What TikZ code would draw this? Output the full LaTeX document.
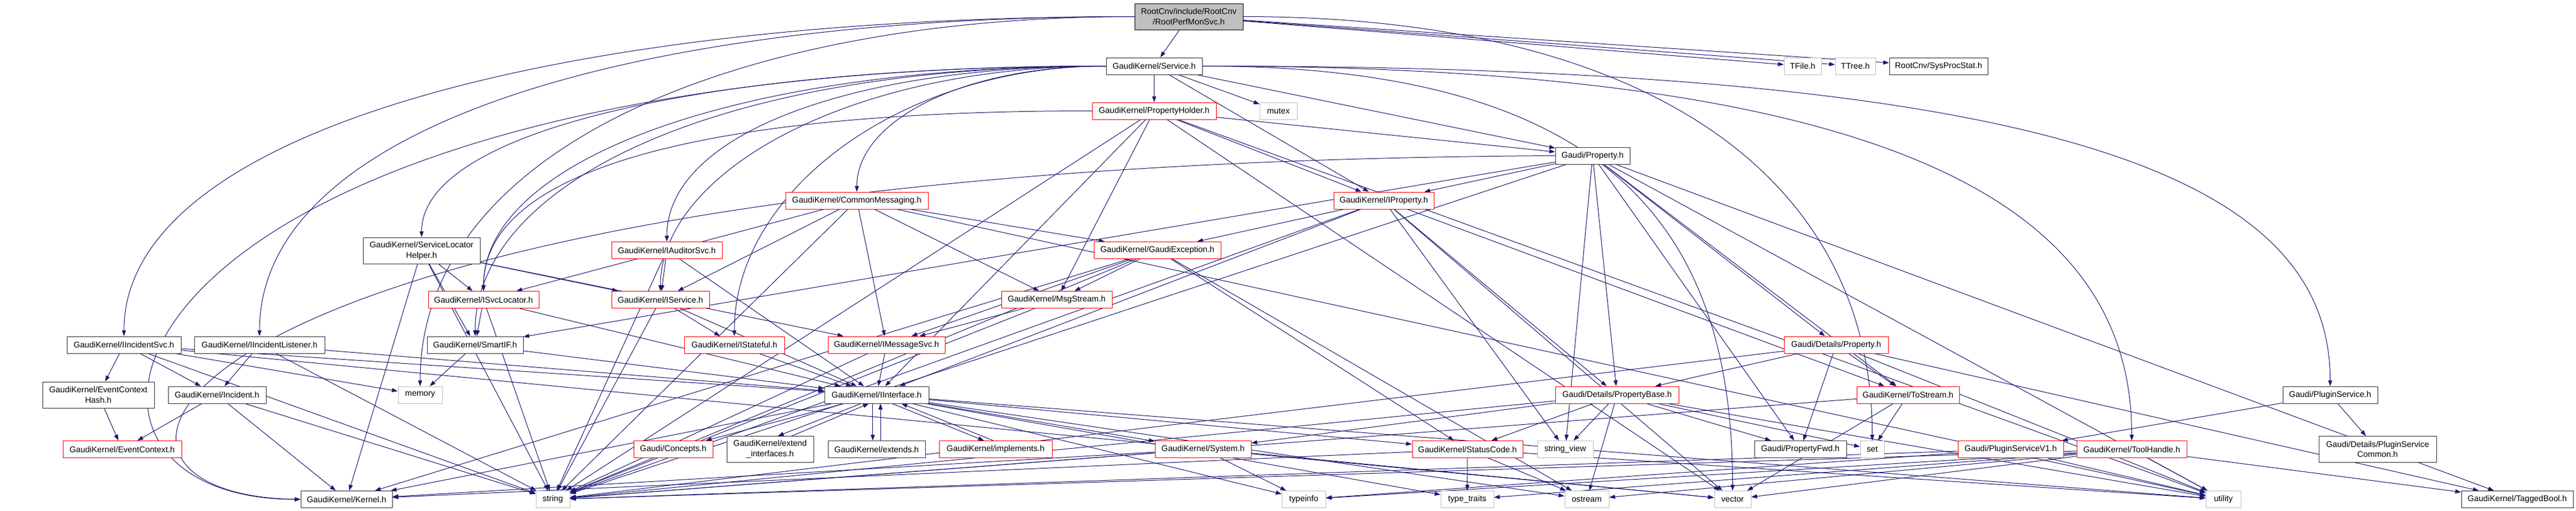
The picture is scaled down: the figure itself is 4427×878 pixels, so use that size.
\documentclass[tikz,border=0pt]{standalone}
\usepackage{fontspec}
\setmainfont{Liberation Sans}
\usetikzlibrary{arrows.meta}
\usetikzlibrary{backgrounds}
\definecolor{edgeblue}{HTML}{191970}
\definecolor{boxgrey}{HTML}{BFBFBF}
\tikzset{x=0.75pt, y=0.75pt,
every node/.style={ % Sets the properties for each file box
font=\fontsize{10.7}{13.3}\selectfont,
inner sep=0pt,
minimum height=21.75pt,
align=center,
fill=white,
line width=0.75pt},
hdr/.style={draw=black!80},
hdrred/.style={draw=red},
syshdr/.style={draw=boxgrey},
rootfile/.style={draw=black, fill=boxgrey},
bw/.style={minimum width=#1*0.75pt},
twoline/.style={minimum height=33.75pt},
incl/.style={ % Sets the properties for each include
draw,
edgeblue,
line width=0.75pt,
-{Triangle[length=7.5pt,width=5.25pt]}},
every edge/.style={incl}}

\begin{document}
\begin{tikzpicture}
\useasboundingbox (0,0) rectangle (4427,-878);
% row 0 and 1
\node[rootfile, bw=186, twoline] (rpm) at (2043,-28.5) {RootCnv/include/RootCnv\\/RootPerfMonSvc.h};
\node[hdr, bw=165] (svc) at (1983.5,-113.5) {GaudiKernel/Service.h};
\node[syshdr, bw=64] (tfile) at (3098,-113.5) {TFile.h};
\node[syshdr, bw=69] (ttree) at (3188.5,-113.5) {TTree.h};
\node[hdr, bw=169] (sysproc) at (3331.5,-113.5) {RootCnv/SysProcStat.h};
% rows 2 to 4
\node[hdrred, bw=213] (propholder) at (1983.5,-190.5) {GaudiKernel/PropertyHolder.h};
\node[syshdr, bw=64] (mutex) at (2197,-190.5) {mutex};
\node[hdr, bw=128] (prop) at (2737,-267.5) {Gaudi/Property.h};
\node[hdrred, bw=245] (cmsg) at (1472.5,-344.5) {GaudiKernel/CommonMessaging.h};
\node[hdrred, bw=172] (iprop) at (2378,-344.5) {GaudiKernel/IProperty.h};
% rows 5 and 6
\node[hdr, bw=201, twoline] (slh) at (724.5,-430.5) {GaudiKernel/ServiceLocator\\Helper.h};
\node[hdrred, bw=190] (iaud) at (1146,-430) {GaudiKernel/IAuditorSvc.h};
\node[hdrred, bw=218] (gexc) at (1989,-430) {GaudiKernel/GaudiException.h};
\node[hdrred, bw=190] (isvcloc) at (831,-515) {GaudiKernel/ISvcLocator.h};
\node[hdrred, bw=168] (isvc) at (1135,-515) {GaudiKernel/IService.h};
\node[hdrred, bw=190] (msgs) at (1816,-515) {GaudiKernel/MsgStream.h};
% row 7
\node[hdr, bw=196] (incsvc) at (213,-592.5) {GaudiKernel/IIncidentSvc.h};
\node[hdr, bw=224] (inclist) at (446,-592.5) {GaudiKernel/IIncidentListener.h};
\node[hdr, bw=165] (smartif) at (816.5,-592.5) {GaudiKernel/SmartIF.h};
\node[hdrred, bw=172] (istate) at (1262,-592.5) {GaudiKernel/IStateful.h};
\node[hdrred, bw=201] (imsg) at (1523.5,-592.5) {GaudiKernel/IMessageSvc.h};
\node[hdrred, bw=179] (dprop) at (3155.5,-592.5) {Gaudi/Details/Property.h};
% row 8
\node[hdr, bw=192, twoline] (ech) at (169,-678.5) {GaudiKernel/EventContext\\Hash.h};
\node[hdr, bw=168] (incid) at (373,-678.5) {GaudiKernel/Incident.h};
\node[syshdr, bw=76] (memory) at (722,-678.5) {memory};
\node[hdr, bw=179] (iface) at (1506.5,-678.5) {GaudiKernel/IInterface.h};
\node[hdrred, bw=212] (pbase) at (2779,-678.5) {Gaudi/Details/PropertyBase.h};
\node[hdrred, bw=176] (tostream) at (3279,-678.5) {GaudiKernel/ToStream.h};
\node[hdr, bw=163] (plugin) at (4004.5,-678.5) {Gaudi/PluginService.h};
% row 9
\node[hdrred, bw=204] (ectx) at (210,-772) {GaudiKernel/EventContext.h};
\node[hdrred, bw=136] (concepts) at (1157,-772) {Gaudi/Concepts.h};
\node[hdr, bw=149, twoline] (extif) at (1323.5,-772) {GaudiKernel/extend\\\_interfaces.h};
\node[hdr, bw=167] (extends) at (1506.5,-772) {GaudiKernel/extends.h};
\node[hdrred, bw=194] (impl) at (1711,-772) {GaudiKernel/implements.h};
\node[hdrred, bw=165] (system) at (2067.5,-772) {GaudiKernel/System.h};
\node[hdrred, bw=190] (status) at (2522,-772) {GaudiKernel/StatusCode.h};
\node[syshdr, bw=96] (strview) at (2690,-772) {string\_view};
\node[hdr, bw=158] (pfwd) at (3094,-772) {Gaudi/PropertyFwd.h};
\node[syshdr, bw=41] (set) at (3217.5,-772) {set};
\node[hdrred, bw=181] (pv1) at (3455.5,-772) {Gaudi/PluginServiceV1.h};
\node[hdrred, bw=189] (toolh) at (3663.5,-772) {GaudiKernel/ToolHandle.h};
\node[hdr, bw=202, twoline] (pscommon) at (4086,-772) {Gaudi/Details/PluginService\\Common.h};
% row 10
\node[hdr, bw=157] (kernel) at (595.5,-858) {GaudiKernel/Kernel.h};
\node[syshdr, bw=58] (string) at (950,-858) {string};
\node[syshdr, bw=75] (typeinfo) at (2240.5,-858) {typeinfo};
\node[syshdr, bw=91] (typetraits) at (2521.5,-858) {type\_traits};
\node[syshdr, bw=76] (ostream) at (2727,-858) {ostream};
\node[syshdr, bw=63] (vector) at (2977.5,-858) {vector};
\node[syshdr, bw=60] (utility) at (3821,-858) {utility};
\node[hdr, bw=192] (tagged) at (4326,-858) {GaudiKernel/TaggedBool.h};

\begin{scope}[on background layer]
% long includes, routed round the side
\draw[incl] (rpm.west) .. controls +(-1000,0) and +(0,350) .. (incsvc.north);
\draw[incl] (rpm.west) .. controls +(-900,0) and +(0,350) .. (inclist.north);
\draw[incl] (rpm.west) .. controls +(-700,0) and +(0,400) .. (memory.north);
\draw[incl] (rpm.east) .. controls +(700,0) and +(0,450) .. (set.north);
\draw[incl] (svc.west) .. controls +(-250,0) and +(0,120) .. (cmsg.north);
\draw[incl] (svc.west) .. controls +(-450,0) and +(0,180) .. (iaud.north);
\draw[incl] (svc.west) .. controls +(-650,0) and +(0,220) .. (isvcloc.north);
\draw[incl] (svc.west) .. controls +(-450,0) and +(0,200) .. (isvc.north);
\draw[incl] (svc.west) .. controls +(-350,0) and +(0,250) .. (istate.north);
\draw[incl] (svc.west) .. controls +(-700,0) and +(0,180) .. (slh.north);
\draw[incl] (svc.west) .. controls +(-700,0) and +(0,250) .. (smartif.north);
\draw[incl] (svc.west) .. controls (150,-113) and (0,-858) .. (kernel.west);
\draw[incl] (svc.east) .. controls +(1200,0) and +(0,400) .. (toolh.north);
\draw[incl] (svc.east) .. controls +(1500,0) and +(0,350) .. (plugin.north);
\draw[incl] (svc.east) .. controls +(700,0) and +(0,450) .. (vector.north);
\draw[incl] (prop.west) .. controls (250,-280) and (30,-850) .. (kernel.west);
\draw[incl] (propholder.west) .. controls +(-700,0) and +(0,200) .. (isvcloc.north);
% direct includes
\draw (rpm) edge (svc) edge (tfile) edge (ttree) edge (sysproc);
\draw (svc) edge (propholder) edge (mutex) edge (prop) edge (iprop);
\draw (propholder) edge (prop) edge (iprop) edge (msgs) edge (iface)
  edge (vector) edge (utility) edge (string);
\draw (prop) edge (iprop) edge (dprop) edge (pbase) edge (pfwd) edge (tostream)
  edge (tagged) edge (smartif) edge (string) edge (strview) edge (utility);
\draw (cmsg) edge (gexc) edge (msgs) edge (imsg) edge (isvcloc) edge (isvc)
  edge (string) edge (utility);
\draw (iprop) edge (gexc) edge (iface) edge (string) edge (strview) edge (pbase)
  edge (vector) edge (tostream);
\draw (slh) edge (isvcloc) edge (isvc) edge (imsg) edge (smartif) edge (kernel)
  edge (string);
\draw (iaud) edge (isvc) edge (iface) edge (string);
\draw (gexc) edge (msgs) edge (kernel) edge (string) edge (status) edge (ostream)
  edge (imsg);
\draw (isvcloc) edge (iface) edge (smartif) edge (string);
\draw (isvc) edge (istate) edge (iface) edge (string);
\draw (msgs) edge (imsg) edge (string);
\draw (incsvc) edge (ech) edge (incid) edge (memory) edge (iface) edge (string)
  edge (vector);
\draw (inclist) edge (incid) edge (iface) edge (string);
\draw (smartif) edge (memory) edge (iface);
\draw (istate) edge (iface);
\draw (imsg) edge (iface) edge (string);
\draw (dprop) edge (pbase) edge (pfwd) edge (tostream) edge (tagged) edge (utility)
  edge (string);
\draw (ech) edge (ectx);
\draw (incid) edge (ectx) edge (kernel) edge (string);
\draw (iface) edge (kernel) edge (concepts) edge (system) edge (status)
  edge (typeinfo) edge (typetraits) edge (ostream) edge (utility);
% includes that go both ways
\draw ([xshift=-20pt]iface.south) edge ([xshift=10pt]extif.north);
\draw ([xshift=28pt]extif.north) edge ([xshift=-10pt]iface.south);
\draw ([xshift=-5pt]iface.south) edge ([xshift=-5pt]extends.north);
\draw ([xshift=5pt]extends.north) edge ([xshift=5pt]iface.south);
\draw ([xshift=20pt]iface.south) edge ([xshift=-15pt]impl.north);
\draw ([xshift=-3pt]impl.north) edge ([xshift=32pt]iface.south);
\draw (pbase) edge (system) edge (status) edge (strview) edge (ostream) edge (pfwd)
  edge (set) edge (utility) edge (string);
\draw (tostream) edge (set) edge (vector) edge (string);
\draw (plugin) edge (pv1) edge (pscommon);
\draw (pv1) edge (string) edge (typeinfo) edge (utility);
\draw (toolh) edge (tagged) edge (utility) edge (vector) edge (string)
  edge (typeinfo) edge (typetraits) edge (ostream);
\draw (system) edge (kernel) edge (string) edge (typeinfo) edge (vector);
\draw (status) edge (kernel) edge (typetraits) edge (ostream) edge (utility);
\end{scope}
\end{tikzpicture}
\end{document}
